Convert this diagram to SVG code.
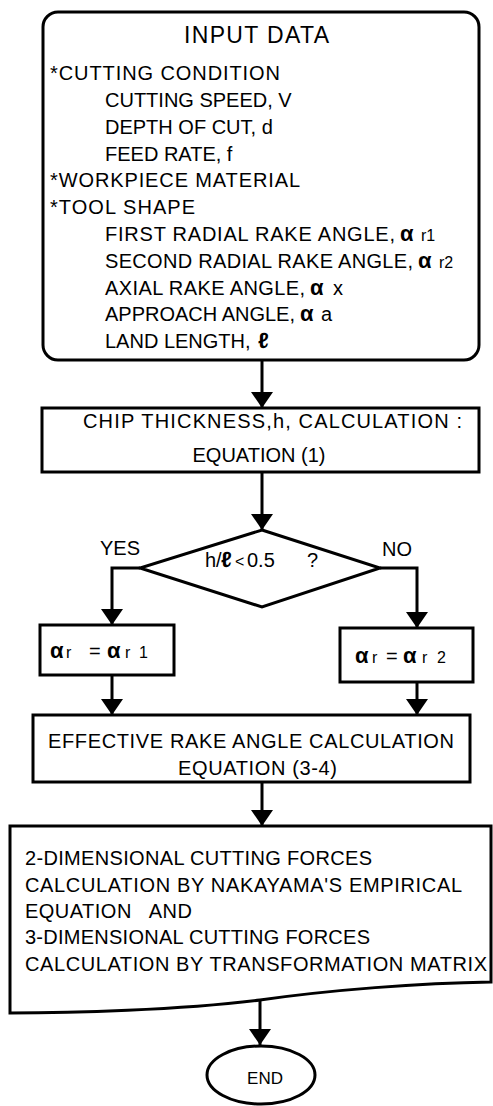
<svg xmlns="http://www.w3.org/2000/svg" width="493" height="1106" viewBox="0 0 493 1106">
  <style>
    .shape { fill: #fff; stroke: #000; stroke-width: 3; }
    .wire { fill: none; stroke: #000; stroke-width: 3; }
    text { font-family: "Liberation Sans", Arial, sans-serif; font-size: 20px; fill: #000; white-space: pre; }
    .mid { text-anchor: middle; }
    .title { font-size: 23px; }
    .small { font-size: 17px; }
    .sym { font-weight: bold; font-size: 22px; }
    .sub { font-size: 16px; }
  </style>
  <defs>
    <marker id="arrow" markerUnits="userSpaceOnUse" viewBox="0 0 16 22" refX="16" refY="11" markerWidth="16" markerHeight="22" orient="auto">
      <path d="M0,0 L16,11 L0,22 Z" fill="#000"/>
    </marker>
  </defs>
  <rect width="493" height="1106" fill="#fff"/>

  <!-- connectors -->
  <g id="connectors" class="wire" marker-end="url(#arrow)">
    <line x1="262" y1="360" x2="262" y2="408"/>
    <line x1="262" y1="472" x2="262" y2="530"/>
    <polyline points="140,568 112,568 112,625"/>
    <polyline points="380,568 417,568 417,628"/>
    <line x1="112" y1="675" x2="112" y2="715"/>
    <line x1="417" y1="682" x2="417" y2="715"/>
    <line x1="262" y1="782" x2="262" y2="826"/>
    <line x1="260" y1="1000" x2="260" y2="1045"/>
  </g>

  <!-- input data block -->
  <g id="input-data">
    <rect class="shape" x="43" y="12" width="436" height="348" rx="15"/>
    <text class="title" x="184" y="43" textLength="145">INPUT DATA</text>
    <text x="50" y="80" textLength="230">*CUTTING CONDITION</text>
    <text x="105" y="107">CUTTING SPEED, V</text>
    <text x="105" y="134">DEPTH OF CUT, d</text>
    <text x="105" y="161">FEED RATE, f</text>
    <text x="50" y="187" textLength="250">*WORKPIECE MATERIAL</text>
    <text x="50" y="214" textLength="145">*TOOL SHAPE</text>
    <text x="105" y="241"><tspan textLength="290">FIRST RADIAL RAKE ANGLE,</tspan><tspan class="sym" x="400">α</tspan><tspan class="sub" x="421">r1</tspan></text>
    <text x="105" y="268"><tspan textLength="308">SECOND RADIAL RAKE ANGLE,</tspan><tspan class="sym" x="418">α</tspan><tspan class="sub" x="439">r2</tspan></text>
    <text x="105" y="295"><tspan textLength="200">AXIAL RAKE ANGLE,</tspan><tspan class="sym" x="310">α</tspan><tspan x="333">x</tspan></text>
    <text x="105" y="321"><tspan textLength="190">APPROACH ANGLE,</tspan><tspan class="sym" x="300">α</tspan><tspan x="321">a</tspan></text>
    <text x="105" y="348"><tspan>LAND LENGTH,</tspan><tspan class="sym" x="258">ℓ</tspan></text>
  </g>

  <!-- chip thickness -->
  <g id="chip-thickness">
    <rect class="shape" x="42" y="408" width="437" height="64"/>
    <text x="83" y="428" textLength="379">CHIP THICKNESS,h, CALCULATION :</text>
    <text class="mid" x="259" y="462">EQUATION (1)</text>
  </g>

  <!-- decision -->
  <g id="decision">
    <polygon class="shape" points="262,530 380,568 262,607 140,568"/>
    <text y="567"><tspan x="205">h/</tspan><tspan class="sym" x="221">ℓ</tspan><tspan class="sub" x="235">&lt;</tspan><tspan x="247">0.5</tspan><tspan x="307">?</tspan></text>
  </g>
  <text id="label-yes" x="100" y="555">YES</text>
  <text id="label-no" x="382" y="556">NO</text>

  <!-- rake angle selection -->
  <g id="rake-first">
    <rect class="shape" x="40" y="625" width="134" height="50"/>
    <text y="658"><tspan class="sym" x="50">α</tspan><tspan class="sub" x="66">r</tspan><tspan x="89">=</tspan><tspan class="sym" x="107">α</tspan><tspan class="sub" x="125">r</tspan><tspan class="sub" x="139">1</tspan></text>
  </g>
  <g id="rake-second">
    <rect class="shape" x="340" y="628" width="133" height="54"/>
    <text y="663"><tspan class="sym" x="355">α</tspan><tspan class="sub" x="372">r</tspan><tspan x="386">=</tspan><tspan class="sym" x="403">α</tspan><tspan class="sub" x="422">r</tspan><tspan class="sub" x="437">2</tspan></text>
  </g>

  <!-- effective rake angle -->
  <g id="effective-rake">
    <rect class="shape" x="33" y="715" width="437" height="67"/>
    <text x="48" y="748" textLength="406">EFFECTIVE RAKE ANGLE CALCULATION</text>
    <text x="178" y="775" textLength="159">EQUATION (3-4)</text>
  </g>

  <!-- cutting forces document -->
  <g id="cutting-forces">
    <path class="shape" d="M10,826 H491 V982 C420,983 330,990 260,1000 C180,1010 70,1013 10,1013 Z"/>
    <text x="25" y="865" textLength="347">2-DIMENSIONAL CUTTING FORCES</text>
    <text x="25" y="892" textLength="437">CALCULATION BY NAKAYAMA'S EMPIRICAL</text>
    <text x="25" y="918" textLength="167">EQUATION   AND</text>
    <text x="25" y="944" textLength="345">3-DIMENSIONAL CUTTING FORCES</text>
    <text x="25" y="971" textLength="462">CALCULATION BY TRANSFORMATION MATRIX</text>
  </g>

  <!-- end -->
  <g id="end">
    <ellipse class="shape" cx="261" cy="1075" rx="54" ry="29"/>
    <text class="mid small" x="265" y="1084">END</text>
  </g>
</svg>
